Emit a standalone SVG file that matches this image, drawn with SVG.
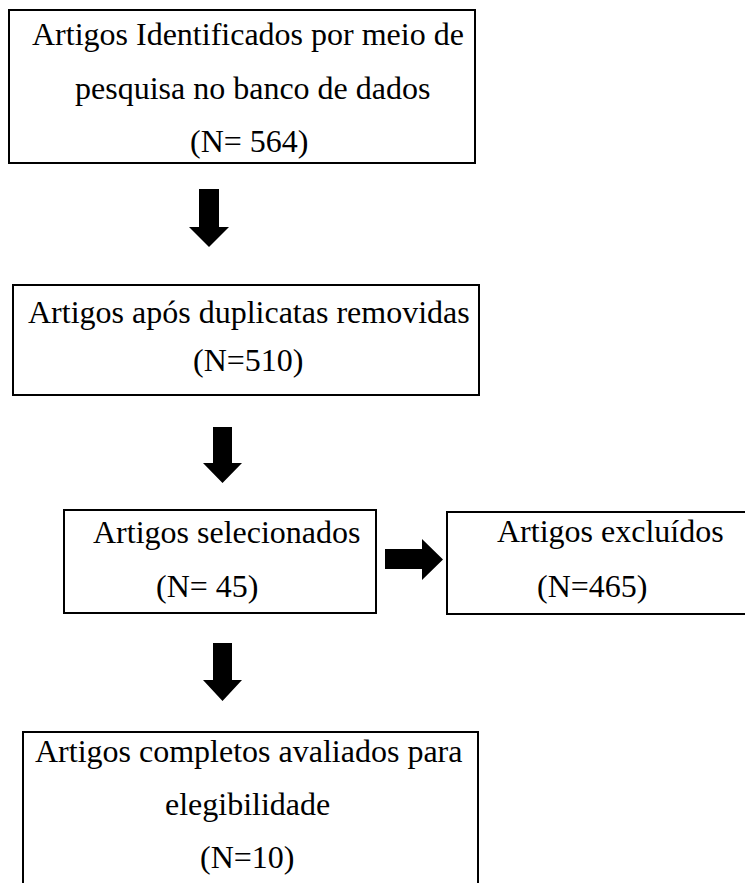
<svg xmlns="http://www.w3.org/2000/svg" width="745" height="883" viewBox="0 0 745 883">
<style>
.box{fill:#fff;stroke:#000;stroke-width:2}
.t{font-family:"Liberation Serif","Times New Roman",serif;font-size:32px;fill:#000}
.arr{fill:#000}
</style>
<rect x="0" y="0" width="745" height="883" fill="#fff"/>
<g id="connectors">
<polygon class="arr" points="199,189 219,189 219,227 229,227 209,247 189,227 199,227"/>
<polygon class="arr" points="213,427 232,427 232,463 242,463 222.5,483 203,463 213,463"/>
<polygon class="arr" points="213,643 232,643 232,680 242,680 222.5,701 203,680 213,680"/>
<polygon class="arr" points="385,549 422,549 422,539 443,559.5 422,580 422,569 385,569"/>
</g>
<g id="n1">
<rect class="box" x="9" y="10" width="466" height="153"/>
<text class="t" x="32" y="45">Artigos Identificados por meio de</text>
<text class="t" x="75" y="99">pesquisa no banco de dados</text>
<text class="t" x="190" y="152">(N= 564)</text>
</g>
<g id="n2">
<rect class="box" x="13" y="285" width="466" height="110"/>
<text class="t" x="28" y="323">Artigos após duplicatas removidas</text>
<text class="t" x="193" y="371">(N=510)</text>
</g>
<g id="n3">
<rect class="box" x="64" y="510" width="312" height="103"/>
<text class="t" x="93" y="543">Artigos selecionados</text>
<text class="t" x="156" y="597">(N= 45)</text>
</g>
<g id="n4">
<rect class="box" x="447" y="512" width="310" height="102"/>
<text class="t" x="497" y="542">Artigos excluídos</text>
<text class="t" x="537" y="597">(N=465)</text>
</g>
<g id="n5">
<rect class="box" x="23" y="732" width="455" height="170"/>
<text class="t" x="35" y="762">Artigos completos avaliados para</text>
<text class="t" x="165" y="815">elegibilidade</text>
<text class="t" x="200" y="868">(N=10)</text>
</g>
</svg>
